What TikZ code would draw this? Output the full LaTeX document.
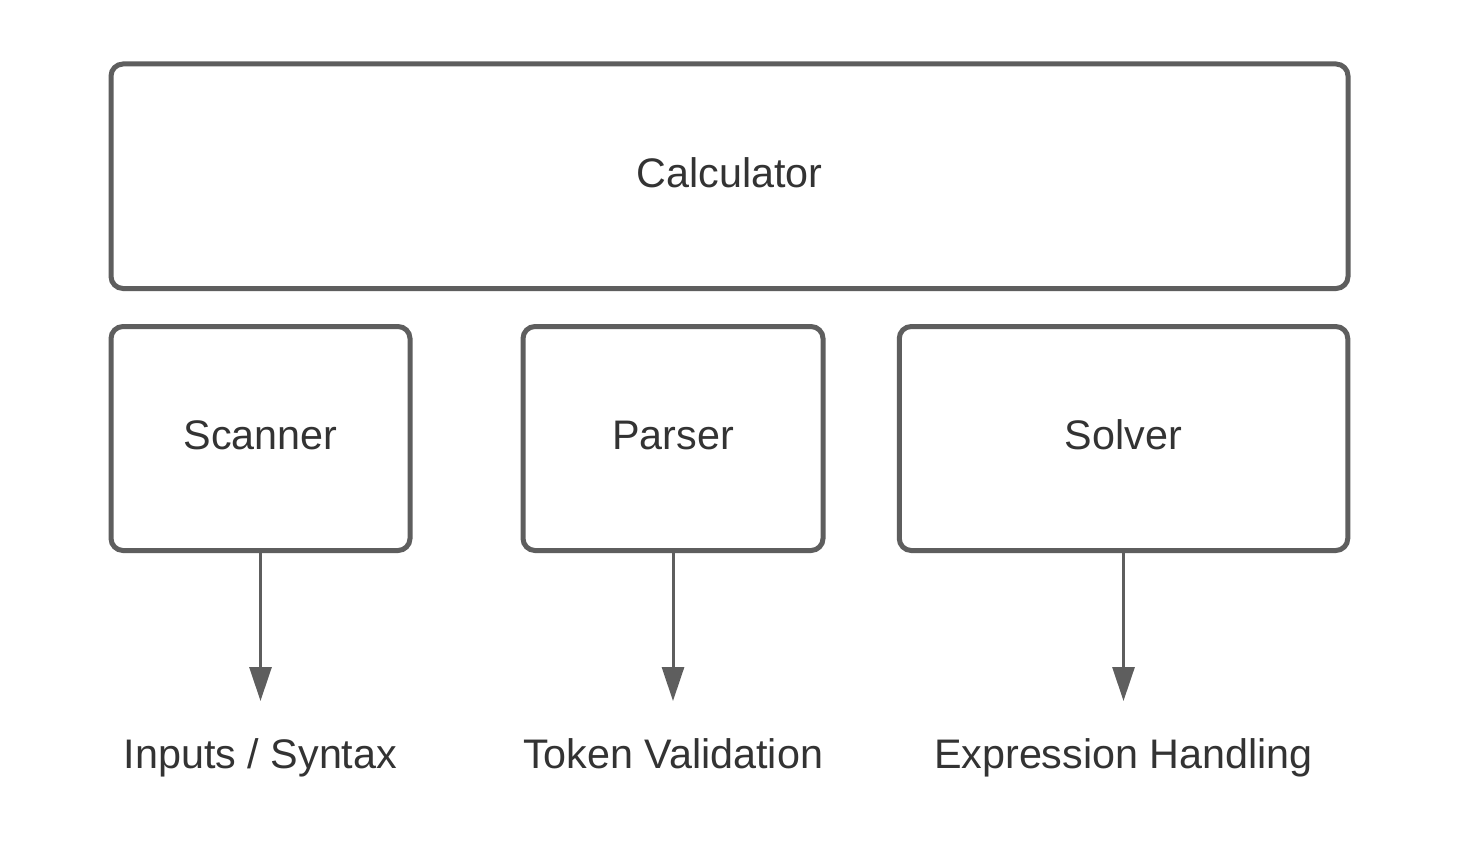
\documentclass[tikz,border=0pt]{standalone}
\usepackage{fontspec}
\setmainfont{Liberation Sans}
\usetikzlibrary{arrows.meta}
\definecolor{linegray}{HTML}{5E5E5E}
\definecolor{textgray}{HTML}{333333}
\begin{document}
\begin{tikzpicture}[x=1pt,y=-1pt,
  box/.style={draw=linegray, line width=5pt, rounded corners=12pt, fill=white,
    text=textgray, font=\fontsize{41.3}{49}\selectfont, text height=29pt, text depth=7pt,
    inner sep=0pt, minimum height=224pt},
  lbl/.style={text=textgray, font=\fontsize{41.3}{49}\selectfont, text height=29pt, text depth=0pt,
    inner xsep=0pt, inner ysep=0pt, outer ysep=38pt, anchor=base},
  arr/.style={draw=linegray, line width=3pt, -{Triangle[length=34pt,width=22pt]}}
]
\useasboundingbox (0,0) rectangle (1459,864);
\fill[white] (0,0) rectangle (1459,864);
\node[box, minimum width=1237pt, minimum height=224.5pt] (calc) at (729.5,176.25) {Calculator};
\node[box, minimum width=299pt] (scanner) at (260.5,438.5) {Scanner};
\node[box, minimum width=300pt] (parser) at (673,438.5) {Parser};
\node[box, minimum width=448.5pt] (solver) at (1123.5,438.5) {Solver};
\node[lbl] (inputs) at (260.5,768) {Inputs / Syntax};
\node[lbl] (token) at (673,768) {Token Validation};
\node[lbl] (expr) at (1123.5,768) {Expression Handling};
\draw[arr] (scanner.south) -- (inputs.north);
\draw[arr] (parser.south) -- (token.north);
\draw[arr] (solver.south) -- (expr.north);
\end{tikzpicture}
\end{document}
